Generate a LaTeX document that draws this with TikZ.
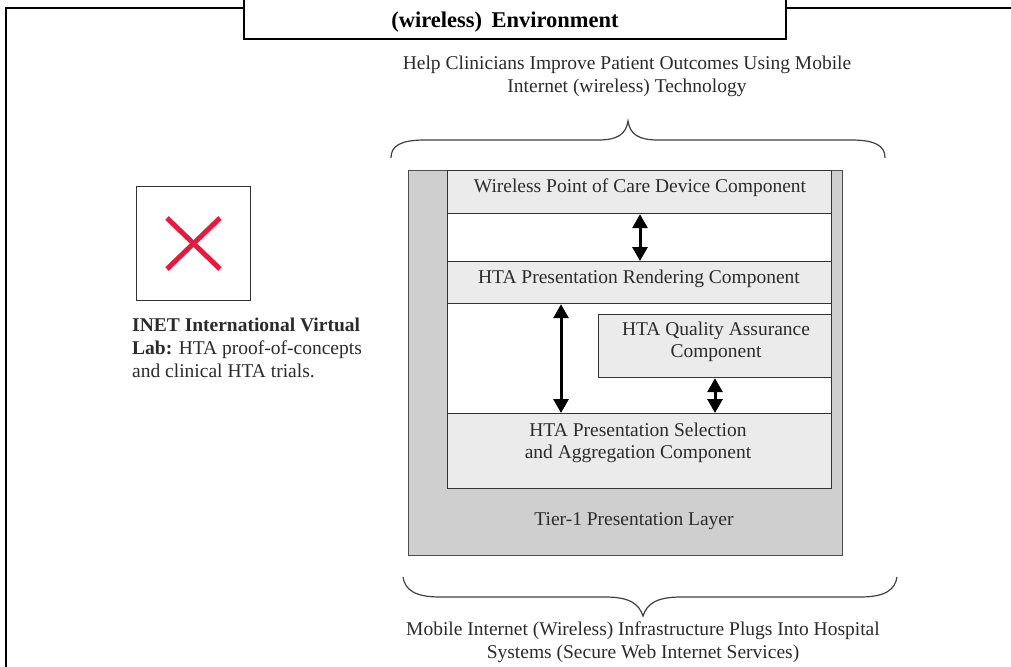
\documentclass[tikz,border=0pt]{standalone}
\usepackage{fontspec}
\setmainfont{Liberation Serif}
\usetikzlibrary{arrows.meta}
\definecolor{txt}{HTML}{2B2B2B}
\definecolor{layer}{HTML}{CFCFCF}
\definecolor{compfill}{HTML}{EBEBEB}
\definecolor{xred}{HTML}{E8193F}
\tikzset{
  frame/.style={line width=2.4pt, black},
  comp/.style={draw=black!80, line width=1.2pt, fill=compfill, inner sep=0pt},
  ctext/.style={text=txt, align=center, inner sep=0pt, font=\fontsize{19.5}{22.5}\selectfont},
  dbl/.style={line width=3pt, black, {Triangle[length=14pt,width=15pt]}-{Triangle[length=14pt,width=15pt]}},
  bracestyle/.style={draw=black!75, line width=1.2pt},
  plain/.style={text=txt, align=center, font=\fontsize{19.5}{23}\selectfont, inner sep=0pt}
}
\begin{document}
\begin{tikzpicture}[x=1pt,y=-1pt]
\useasboundingbox (0,0) rectangle (1011,666);
% outer frame
\coordinate (fl) at (6,8);
\coordinate (fb) at (6,670);
\coordinate (fr) at (1015,8);
\draw[frame] (fb) -- (fl) -- (243,8);
\draw[frame] (785,8) -- (fr);
% title box
\node[draw=black, line width=2.4pt, fill=white, minimum width=542pt, minimum height=50pt, anchor=south west, inner sep=0pt] (title) at (243,40) {};
\node[font=\bfseries\fontsize{22.5}{24}\selectfont, text=black, inner sep=0pt] (titletxt) at (505,22) {(wireless)\, Environment};
% top text
\node[plain] (top) at (627,76) {Help Clinicians Improve Patient Outcomes Using Mobile\\Internet (wireless) Technology};
% top brace
\draw[bracestyle] (391,158) .. controls (391,146) and (400,140) .. (425,140) -- (598,140) .. controls (618,140) and (626,134) .. (628,121) .. controls (630,134) and (638,140) .. (658,140) -- (851,140) .. controls (876,140) and (885,146) .. (885,158);
% layer
\node[draw=black!70, line width=1.2pt, fill=layer, minimum width=434pt, minimum height=385pt, anchor=north west, inner sep=0pt] (layer) at (408,170) {};
\node[fill=white, draw=black!80, line width=1.2pt, minimum width=384pt, minimum height=318pt, anchor=north west, inner sep=0pt] (inner) at (447,170) {};
% components
\node[comp, minimum width=384pt, minimum height=43pt, anchor=north west] (wpc) at (447,170) {};
\node[ctext] (wpct) at (640,188) {Wireless Point of Care Device Component};
\node[comp, minimum width=384pt, minimum height=42pt, anchor=north west] (ren) at (447,261) {};
\node[ctext] (rent) at (639,279) {HTA Presentation Rendering Component};
\node[comp, minimum width=233pt, minimum height=63pt, anchor=north west] (qa) at (598,314) {};
\node[ctext] (qat) at (716,342) {HTA Quality Assurance\\Component};
\node[comp, minimum width=384pt, minimum height=75pt, anchor=north west] (sel) at (447,413) {};
\node[ctext] (selt) at (638,443) {HTA Presentation Selection\\and Aggregation Component};
\node[ctext] (tier) at (634,521) {Tier-1 Presentation Layer};
% arrows
\draw[dbl] (640,0 |- wpc.south) -- (640,0 |- ren.north);
\draw[dbl] (561,0 |- ren.south) -- (561,0 |- sel.north);
\draw[dbl] (715,0 |- qa.south) -- (715,0 |- sel.north);
% bottom brace
\draw[bracestyle] (403,577) .. controls (405,590) and (415,597) .. (440,597) -- (605,597) .. controls (630,597) and (639,604) .. (643,616) .. controls (647,604) and (656,597) .. (681,597) -- (860,597) .. controls (885,597) and (895,590) .. (897,577);
\node[plain] (bot) at (643,642) {Mobile Internet (Wireless) Infrastructure Plugs Into Hospital\\Systems (Secure Web Internet Services)};
% left placeholder
\node[draw=black!80, line width=1.2pt, minimum width=114pt, minimum height=114pt, anchor=north west, inner sep=0pt] (img) at (136,186) {};
\draw[xred, line width=5pt] (167,218) -- (220,269);
\draw[xred, line width=5pt] (220,218) -- (167,269);
\node[anchor=north west, align=left, text=txt, font=\fontsize{19.5}{23}\selectfont, inner sep=0pt] (lab) at (132,318) {\textbf{INET International Virtual}\\\textbf{Lab:} HTA proof-of-concepts\\and clinical HTA trials.};
\end{tikzpicture}
\end{document}
